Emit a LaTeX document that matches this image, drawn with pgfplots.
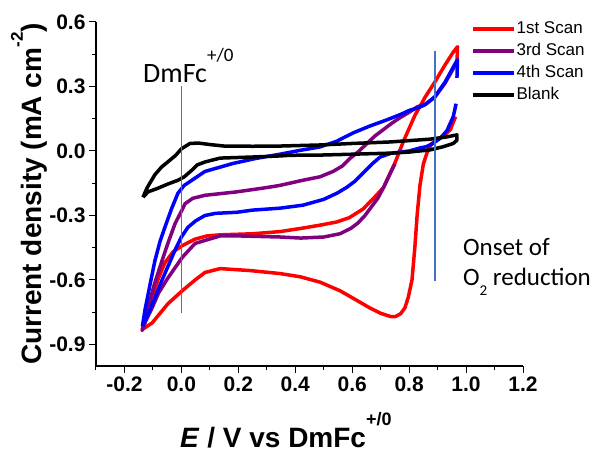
\documentclass[border=0pt]{standalone}
\usepackage{fontspec}
\setmainfont{Liberation Sans}
\newfontfamily\calib{Carlito}
\usepackage{pgfplots}
\pgfplotsset{compat=1.18}
\definecolor{vline}{RGB}{68,114,196}
\definecolor{cvpurple}{RGB}{128,0,128}
\begin{document}
\begin{tikzpicture}
\useasboundingbox (-96pt,-88pt) rectangle (496pt,366pt);
\begin{axis}[
  at={(0pt,0pt)}, anchor=south west,
  scale only axis, width=427pt, height=344pt,
  xmin=-0.3, xmax=1.2, ymin=-1.0, ymax=0.6,
  axis x line*=bottom, axis y line*=left,
  axis line style={line width=1.2pt},
  xtick={-0.2,0,0.2,0.4,0.6,0.8,1.0,1.2},
  xticklabels={-0.2,0.0,0.2,0.4,0.6,0.8,1.0,1.2},
  minor xtick={-0.3,-0.1,0.1,0.3,0.5,0.7,0.9,1.1},
  ytick={-0.9,-0.6,-0.3,0,0.3,0.6},
  yticklabels={-0.9,-0.6,-0.3,0.0,0.3,0.6},
  minor ytick={-0.75,-0.45,-0.15,0.15,0.45},
  tick align=outside,
  major tick length=7pt, minor tick length=4pt,
  every tick/.style={line width=1pt, black},
  ticklabel style={font=\fontsize{21}{21}\selectfont\bfseries},
  clip=false,
  unbounded coords=jump,
  legend image code/.code={\draw[#1] (0pt,0pt) -- (41pt,0pt);},
  legend style={at={(axis description cs:0.878,1.005)}, anchor=north west,
    draw=none, fill=none, font=\fontsize{17}{17}\selectfont,
    row sep=5pt, inner sep=0pt,
    nodes={inner sep=1pt, text height=12pt, text depth=3pt}},
  legend cell align=left,
]
% 1st scan
\addplot[red, line width=3.5pt, line join=round] coordinates {
(-0.137,-0.83) (-0.125,-0.76) (-0.103,-0.68) (-0.08,-0.59) (-0.058,-0.52)
(-0.03,-0.47) (0.003,-0.44) (0.048,-0.41) (0.09,-0.395) (0.136,-0.39)
(0.25,-0.385) (0.346,-0.375) (0.42,-0.36) (0.487,-0.345) (0.546,-0.33)
(0.59,-0.31) (0.638,-0.27) (0.675,-0.22) (0.71,-0.17) (0.75,-0.056)
(0.78,0.045) (0.82,0.165) (0.856,0.25) (0.89,0.32) (0.926,0.40)
(0.955,0.46) (0.97,0.485) (0.968,0.41) (0.968,nan)
(0.963,0.16) (0.945,0.10) (0.926,0.075) (0.90,0.055) (0.88,0.035)
(0.865,0.0) (0.85,-0.06) (0.838,-0.16) (0.828,-0.30) (0.82,-0.45)
(0.81,-0.60) (0.797,-0.68) (0.785,-0.73) (0.77,-0.757) (0.752,-0.77)
(0.735,-0.77) (0.70,-0.755) (0.662,-0.73) (0.61,-0.69) (0.557,-0.65)
(0.487,-0.61) (0.417,-0.585) (0.346,-0.57) (0.24,-0.556) (0.136,-0.547)
(0.083,-0.565) (0.048,-0.60) (0.003,-0.65) (-0.047,-0.71) (-0.103,-0.80)
(-0.137,-0.83)
};
\addlegendentry{1st Scan}
% 3rd scan
\addplot[cvpurple, line width=3.5pt, line join=round] coordinates {
(0.75,-0.06) (0.735,-0.10) (0.71,-0.17) (0.69,-0.22) (0.673,-0.25)
(0.645,-0.30) (0.62,-0.335) (0.595,-0.36) (0.557,-0.385) (0.50,-0.40)
(0.42,-0.405) (0.346,-0.40) (0.20,-0.395) (0.136,-0.395) (0.083,-0.416)
(0.048,-0.43) (0.003,-0.495) (-0.047,-0.59) (-0.08,-0.66) (-0.103,-0.73)
(-0.125,-0.79) (-0.138,-0.835)
(-0.13,-0.79) (-0.117,-0.73) (-0.095,-0.62) (-0.068,-0.51) (-0.045,-0.42)
(-0.022,-0.337) (0.0,-0.28) (0.013,-0.245) (0.04,-0.22) (0.083,-0.206)
(0.195,-0.19) (0.30,-0.17) (0.346,-0.16) (0.427,-0.136) (0.487,-0.12)
(0.533,-0.095) (0.565,-0.07) (0.592,-0.035) (0.62,-0.005) (0.652,0.035)
(0.68,0.07) (0.708,0.098) (0.74,0.13) (0.768,0.155) (0.80,0.18)
(0.828,0.205) (0.86,0.22) (0.89,0.25) (0.926,0.315) (0.96,0.395)
(0.968,0.415)
};
\addlegendentry{3rd Scan}
% 4th scan
\addplot[blue, line width=3.5pt, line join=round] coordinates {
(-0.137,-0.815) (-0.128,-0.74) (-0.11,-0.62) (-0.093,-0.51) (-0.075,-0.42)
(-0.058,-0.355) (-0.035,-0.27) (-0.012,-0.196) (0.01,-0.16) (0.037,-0.136)
(0.083,-0.095) (0.136,-0.075) (0.181,-0.058) (0.26,-0.035) (0.346,-0.015)
(0.417,0.003) (0.487,0.019) (0.545,0.045) (0.603,0.084) (0.66,0.115)
(0.722,0.145) (0.77,0.17) (0.803,0.19) (0.83,0.20) (0.856,0.215)
(0.89,0.252) (0.926,0.32) (0.955,0.39) (0.97,0.425) (0.968,0.34)
(0.968,nan)
(0.965,0.22) (0.955,0.16) (0.933,0.095) (0.91,0.06) (0.884,0.035)
(0.86,0.02) (0.838,0.014) (0.80,0.0) (0.768,-0.005) (0.733,-0.012)
(0.698,-0.028) (0.67,-0.06) (0.638,-0.103) (0.61,-0.14) (0.582,-0.168)
(0.547,-0.196) (0.50,-0.225) (0.427,-0.252) (0.346,-0.266) (0.25,-0.275)
(0.195,-0.285) (0.12,-0.29) (0.083,-0.30) (0.05,-0.325) (0.023,-0.355)
(0.0,-0.40) (-0.022,-0.46) (-0.045,-0.53) (-0.068,-0.60) (-0.095,-0.69)
(-0.117,-0.76) (-0.137,-0.815)
};
\addlegendentry{4th Scan}
% Blank
\addplot[black, line width=3.5pt, line join=round] coordinates {
(-0.135,-0.215) (-0.12,-0.17) (-0.093,-0.11) (-0.07,-0.075) (-0.047,-0.05)
(-0.02,-0.02) (0.0,0.01) (0.03,0.035) (0.06,0.037) (0.10,0.03)
(0.15,0.023) (0.25,0.022) (0.346,0.023) (0.487,0.028) (0.60,0.035)
(0.733,0.042) (0.873,0.055) (0.93,0.065) (0.968,0.075) (0.968,0.05)
(0.955,0.035) (0.92,0.02) (0.873,0.005) (0.80,-0.005) (0.733,-0.01)
(0.60,-0.015) (0.487,-0.019) (0.382,-0.02) (0.346,-0.023) (0.25,-0.028)
(0.136,-0.033) (0.083,-0.051) (0.055,-0.065) (0.037,-0.089) (0.01,-0.12)
(-0.012,-0.136) (-0.05,-0.155) (-0.082,-0.173) (-0.117,-0.19) (-0.135,-0.215)
};
\addlegendentry{Blank}
% marker lines
\addplot[vline, line width=1.6pt, forget plot] coordinates {(0,0.30) (0,-0.755)};
\addplot[vline, line width=1.6pt, forget plot] coordinates {(0.891,0.463) (0.891,-0.603)};
% annotations
\node[anchor=base west, inner sep=0pt, font=\calib\fontsize{28}{28}\selectfont]
  at (axis cs:-0.135,0.318) {DmFc\raisebox{21pt}{\fontsize{19}{19}\selectfont +/0}};
\node[anchor=base west, inner sep=0pt, font=\calib\fontsize{25}{25}\selectfont]
  at (axis cs:0.989,-0.486) {Onset of};
\node[anchor=base west, inner sep=0pt, font=\calib\fontsize{25}{25}\selectfont]
  at (axis cs:0.989,-0.626) {O\raisebox{-10pt}{\fontsize{15}{15}\selectfont 2} reduction};
\end{axis}
% axis labels
\node[rotate=90, anchor=base, inner sep=0pt, font=\fontsize{28}{28}\selectfont\bfseries]
  at (-54pt,172pt) {Current density (mA cm\raisebox{19pt}{\fontsize{17}{17}\selectfont -2})};
\node[anchor=base west, inner sep=0pt, font=\fontsize{28}{28}\selectfont\bfseries]
  at (84pt,-82pt) {\textit{E} / V vs DmFc\raisebox{22pt}{\fontsize{18}{18}\selectfont +/0}};
\end{tikzpicture}
\end{document}
